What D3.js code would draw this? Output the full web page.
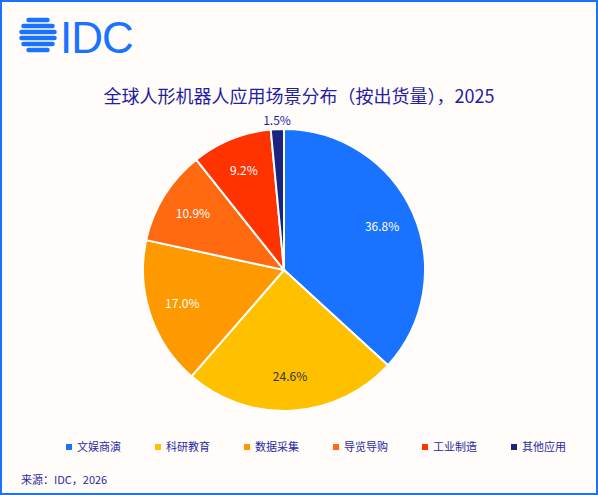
<!DOCTYPE html>
<html><head><meta charset="utf-8">
<script src="https://cdn.jsdelivr.net/npm/d3@7"></script>
<style>body{margin:0;background:#fff;}svg{display:block;font-family:"Noto Sans CJK SC","Noto Sans",sans-serif;}</style>
</head><body><svg id="c" width="598" height="495"></svg>
<script>
const categories = ["文娱商演","科研教育","数据采集","导览导购","工业制造","其他应用"];
const values = [36.8, 24.6, 17.0, 10.9, 9.2, 1.5];
const colors = ["#1a73ff","#ffc000","#ff9900","#ff6a10","#ff3300","#1a237e"];

const svg = d3.select("#c");
svg.append("rect").attr("x",1).attr("y",1).attr("width",596).attr("height",493)
  .attr("fill","#fffcfa").attr("stroke","#1a73ff").attr("stroke-width",2);

// logo
const logo = svg.append("g");
const cx0 = 38, cy0 = 35, lr = 19;
[-15,-9,-3,3,9,15].forEach(dy => {
  const w = Math.sqrt(Math.max(0, lr*lr - dy*dy));
  logo.append("rect").attr("x",cx0-w).attr("y",cy0+dy-2.2).attr("width",2*w).attr("height",4.4)
    .attr("rx",2.2).attr("fill","#1a73ff");
});
logo.append("text").attr("x",60).attr("y",53).attr("font-size",44).attr("font-family","Liberation Sans, Arial")
  .attr("fill","#1a73ff").attr("letter-spacing",-1).text("IDC");

svg.append("text").attr("x",299).attr("y",103).attr("text-anchor","middle").attr("font-size",18)
  .attr("fill","#1f1fa0").text("全球人形机器人应用场景分布（按出货量），2025");

const cx = 284, cy = 270, r = 141;
const pie = d3.pie().sort(null).value(d => d)(values);
const arc = d3.arc().innerRadius(0).outerRadius(r);
const g = svg.append("g").attr("transform",`translate(${cx},${cy})`);
g.selectAll("path").data(pie).join("path").attr("d",arc)
  .attr("fill",(d,i)=>colors[i]).attr("stroke","#fff").attr("stroke-width",2);
const lab = d3.arc().innerRadius(r*0.76).outerRadius(r*0.76);
g.selectAll("text").data(pie).join("text")
  .attr("transform",(d,i)=>{
    if (i===5) return `translate(${-7},${-r-8})`;
    const p = lab.centroid(d); return `translate(${p})`;})
  .attr("text-anchor","middle").attr("dy","0.35em").attr("font-size",12)
  .attr("fill",(d,i)=> i===1 ? "#333" : (i===5 ? "#1f1fa0" : "#fff"))
  .text(d=>d.data.toFixed(1)+"%");

const leg = svg.append("g").selectAll("g").data(categories).join("g")
  .attr("transform",(d,i)=>`translate(${66+i*89},447)`);
leg.append("rect").attr("x",0).attr("y",-3).attr("width",6).attr("height",6).attr("fill",(d,i)=>colors[i]);
leg.append("text").attr("x",11).attr("dy","0.35em").attr("font-size",11).attr("fill","#2a2aa0").text(d=>d);

svg.append("text").attr("x",21).attr("y",484).attr("font-size",11).attr("fill","#2a2aa0").text("来源：IDC，2026");
</script></body></html>
